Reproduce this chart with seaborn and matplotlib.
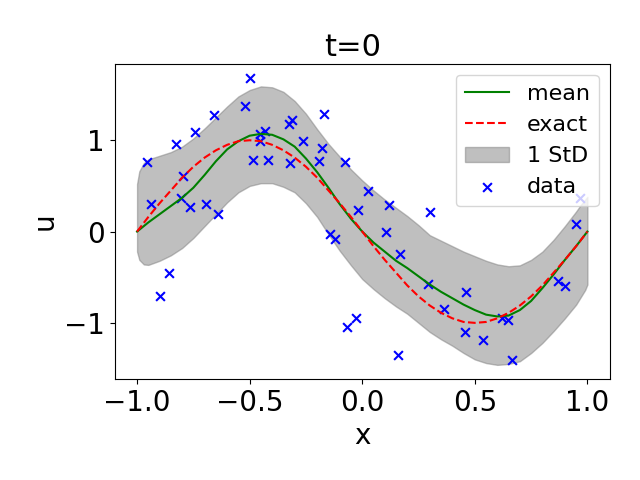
import numpy as np
import matplotlib
matplotlib.use("Agg")
import matplotlib.pyplot as plt
import seaborn as sns

# data points
data_x = [-0.954, -0.938, -0.898, -0.858, -0.826, -0.797, -0.805, -0.765, -0.741, -0.694,
          -0.657, -0.641, -0.521, -0.498, -0.486, -0.456, -0.453, -0.431, -0.419, -0.325,
          -0.311, -0.320, -0.263, -0.169, -0.178, -0.193, -0.076, -0.141, -0.121, -0.067,
          -0.029, 0.026, -0.019, 0.118, 0.106, 0.166, 0.299, 0.159, 0.290, 0.363,
          0.463, 0.455, 0.536, 0.622, 0.647, 0.667, 0.870, 0.902, 0.951, 0.966]
data_u = [0.759, 0.298, -0.710, -0.456, 0.958, 0.608, 0.368, 0.265, 1.094, 0.298,
          1.278, 0.196, 1.370, 1.680, 0.785, 0.991, 1.072, 1.105, 0.785, 1.182,
          1.223, 0.751, 0.991, 1.293, 0.914, 0.773, 0.759, -0.022, -0.081, -1.050,
          -0.950, 0.442, 0.240, 0.295, -0.003, -0.243, 0.210, -1.351, -0.578, -0.848,
          -0.660, -1.097, -1.186, -0.947, -0.972, -1.407, -0.541, -0.600, 0.085, 0.372]

# curves sampled every 0.05
curve_x = [-1.0, -0.95, -0.9, -0.85, -0.8, -0.75, -0.7, -0.65, -0.6, -0.55, -0.5,
           -0.45, -0.4, -0.35, -0.3, -0.25, -0.2, -0.15, -0.1, -0.05, 0.0,
           0.05, 0.1, 0.15, 0.2, 0.25, 0.3, 0.35, 0.4, 0.45, 0.5,
           0.55, 0.6, 0.65, 0.7, 0.75, 0.8, 0.85, 0.9, 0.95, 1.0]
mean_u = [0.0, 0.10, 0.19, 0.28, 0.37, 0.48, 0.62, 0.77, 0.90, 0.99, 1.05,
          1.07, 1.06, 1.01, 0.93, 0.80, 0.65, 0.48, 0.30, 0.14, 0.0,
          -0.12, -0.22, -0.32, -0.40, -0.49, -0.58, -0.66, -0.73, -0.80, -0.86,
          -0.91, -0.93, -0.92, -0.86, -0.76, -0.62, -0.47, -0.31, -0.16, 0.0]
exact_u = [0.0, 0.16, 0.31, 0.45, 0.59, 0.71, 0.81, 0.89, 0.95, 0.99, 1.0,
           0.99, 0.95, 0.89, 0.81, 0.71, 0.59, 0.45, 0.31, 0.16, 0.0,
           -0.16, -0.31, -0.45, -0.59, -0.71, -0.81, -0.89, -0.95, -0.99, -1.0,
           -0.99, -0.95, -0.89, -0.81, -0.71, -0.59, -0.45, -0.31, -0.16, 0.0]

# 1 StD band edges
band_x = [-1.0, -0.99, -0.97, -0.95, -0.9, -0.85, -0.8, -0.75, -0.7, -0.65, -0.6, -0.55,
          -0.5, -0.45, -0.4, -0.35, -0.3, -0.25, -0.2, -0.15, -0.1, -0.05,
          0.0, 0.05, 0.1, 0.15, 0.2, 0.25, 0.3, 0.35, 0.4, 0.45,
          0.5, 0.55, 0.6, 0.65, 0.7, 0.75, 0.8, 0.85, 0.9, 0.95, 0.97, 0.99, 1.0]
band_hi = [0.52, 0.66, 0.75, 0.79, 0.83, 0.87, 0.93, 1.02, 1.13, 1.25, 1.37, 1.48,
           1.55, 1.59, 1.58, 1.53, 1.43, 1.29, 1.12, 0.96, 0.82, 0.68,
           0.56, 0.45, 0.35, 0.26, 0.17, 0.07, -0.04, -0.10, -0.16, -0.22,
           -0.27, -0.32, -0.36, -0.38, -0.37, -0.31, -0.22, -0.09, 0.06, 0.22, 0.29, 0.35, 0.38]
band_lo = [-0.22, -0.31, -0.36, -0.365, -0.32, -0.26, -0.18, -0.07, 0.06, 0.19, 0.32, 0.43,
           0.50, 0.53, 0.53, 0.49, 0.43, 0.31, 0.16, -0.03, -0.21, -0.37,
           -0.52, -0.63, -0.73, -0.82, -0.90, -1.00, -1.10, -1.18, -1.25, -1.33,
           -1.40, -1.44, -1.46, -1.45, -1.42, -1.33, -1.22, -1.09, -0.95, -0.80, -0.72, -0.64, -0.58]

fig, ax = plt.subplots(figsize=(6.4, 4.8), dpi=100)

sns.lineplot(x=curve_x, y=mean_u, color="green", linewidth=1.5, label="mean", ax=ax)
sns.lineplot(x=curve_x, y=exact_u, color="red", linestyle="--", linewidth=1.5, label="exact", ax=ax)
ax.fill_between(band_x, band_lo, band_hi, color="gray", alpha=0.5, label="1 StD")
sns.scatterplot(x=data_x, y=data_u, marker="x", color="blue", s=40, linewidth=1.5,
                label="data", ax=ax)

ax.set_title("t=0", fontsize=22, x=0.48)
ax.set_xlabel("x", fontsize=20)
ax.set_ylabel("u", fontsize=20)
ax.tick_params(labelsize=20)
ax.set_xticks([-1.0, -0.5, 0.0, 0.5, 1.0])
ax.set_yticks([-1, 0, 1])
ax.legend(loc="upper right", fontsize=16)

fig.subplots_adjust(left=0.179, right=0.953, top=0.867, bottom=0.21)
fig.savefig("out.png", dpi=100)
